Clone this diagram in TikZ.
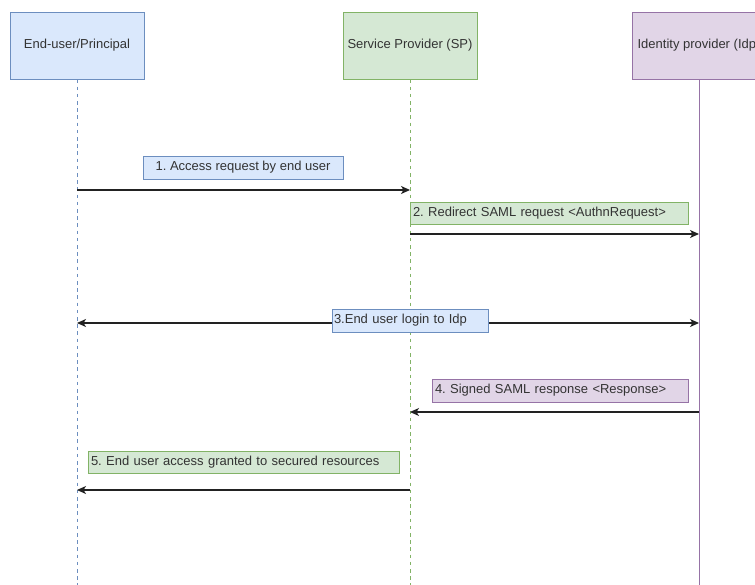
\documentclass[tikz,border=0pt]{standalone}
\usepackage{fontspec}
\setmainfont{Liberation Sans}
\usetikzlibrary{arrows.meta}
\frenchspacing
\definecolor{bluefill}{HTML}{DAE8FC}
\definecolor{bluedraw}{HTML}{6C8EBF}
\definecolor{greenfill}{HTML}{D5E8D4}
\definecolor{greendraw}{HTML}{82B366}
\definecolor{purplefill}{HTML}{E1D5E7}
\definecolor{purpledraw}{HTML}{9673A6}
\definecolor{txt}{HTML}{333333}
\definecolor{msgline}{HTML}{222222}
\tikzset{
  actor/.style={draw=#1draw, fill=#1fill, line width=0.9pt, minimum width=134pt,
    minimum height=67pt, inner sep=0pt, text=txt, font=\fontsize{13}{15}\selectfont},
  msglabel/.style={draw=#1draw, fill=#1fill, line width=0.9pt, inner sep=0pt,
    text=txt, font=\fontsize{13}{15}\selectfont},
  lifeline/.style={draw=#1draw, line width=1pt},
  msg/.style={draw=msgline, line width=1.2pt, -{Stealth[length=9pt,width=8pt,inset=2.5pt]}},
  dmsg/.style={draw=msgline, line width=1.2pt, {Stealth[length=9pt,width=8pt,inset=2.5pt]}-{Stealth[length=9pt,width=8pt,inset=2.5pt]}}
}
\begin{document}
\begin{tikzpicture}[x=1pt, y=-1pt]
\useasboundingbox (0,0) rectangle (755,585);
\clip (0,0) rectangle (755,585);
\fill[white] (0,0) rectangle (755,585);

% participants
\node[actor=blue]   (user) at (77,45.5)  {End-user/Principal};
\node[actor=green]  (sp)   at (410,45.5) {Service Provider (SP)};
\node[actor=purple] (idp)  at (699,45.5) {Identity provider (Idp)};

% lifeline ends
\coordinate (userEnd) at (77,585);
\coordinate (spEnd)   at (410,585);
\coordinate (idpEnd)  at (699,585);
\draw[lifeline=blue, dash pattern=on 3.6pt off 3.6pt] (user.south) -- (userEnd);
\draw[lifeline=green, dash pattern=on 3.6pt off 3.6pt] (sp.south) -- (spEnd);
\draw[lifeline=purple] (idp.south) -- (idpEnd);

% anchor points of the messages on the lifelines
\coordinate (u1) at (77,190);  \coordinate (s1) at (410,190);
\coordinate (s2) at (410,234); \coordinate (i2) at (699,234);
\coordinate (u3) at (77,323);  \coordinate (i3) at (699,323);
\coordinate (i4) at (699,412); \coordinate (s4) at (410,412);
\coordinate (s5) at (410,490); \coordinate (u5) at (77,490);

% messages
\draw[msg] (u1) -- (s1);
\draw[msg] (s2) -- (i2);
\draw[dmsg] (u3) -- (i3);
\draw[msg] (i4) -- (s4);
\draw[msg] (s5) -- (u5);

% message labels
\node[msglabel=blue, minimum width=200pt, minimum height=23pt] (l1) at (243,167.5)
  {1. Access request by end user};
\node[msglabel=green, minimum width=278pt, minimum height=22pt, align=left,
  text width=272pt] (l2) at (549,213) {2. Redirect SAML request <AuthnRequest>};
\node[msglabel=blue, minimum width=156pt, minimum height=23pt, align=left,
  text width=152pt] (l3) at (410,320.5) {3.End user login to Idp};
\node[msglabel=purple, minimum width=256pt, minimum height=23pt, align=left,
  text width=250pt] (l4) at (560,390.5) {4. Signed SAML response <Response>};
\node[msglabel=green, minimum width=311pt, minimum height=22pt, align=left,
  text width=305pt] (l5) at (243.5,462) {5. End user access granted to secured resources};
\end{tikzpicture}
\end{document}
